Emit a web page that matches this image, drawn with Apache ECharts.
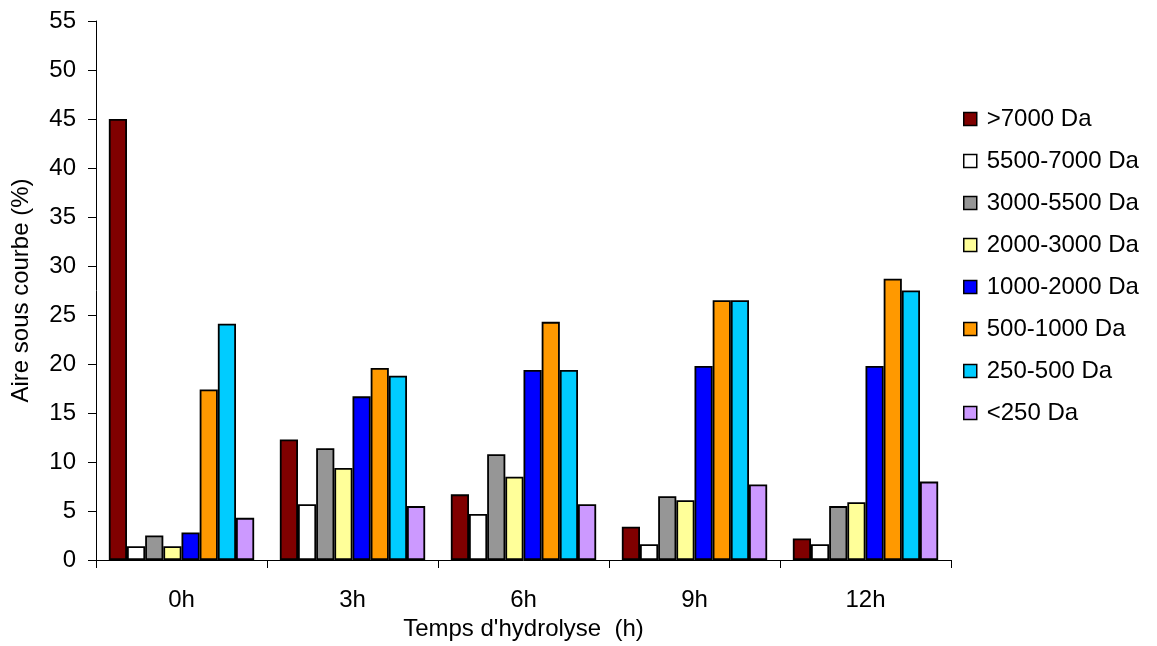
<!DOCTYPE html>
<html>
<head>
<meta charset="utf-8">
<script src="https://cdn.jsdelivr.net/npm/echarts@6/dist/echarts.min.js"></script>
<style>
html,body{margin:0;padding:0;background:#fff;}
#chart{width:1157px;height:646px;}
</style>
</head>
<body>
<div id="chart"></div>
<script>
const categories = ['0h', '3h', '6h', '9h', '12h'];
const seriesNames = ['>7000 Da', '5500-7000 Da', '3000-5500 Da', '2000-3000 Da', '1000-2000 Da', '500-1000 Da', '250-500 Da', '<250 Da'];
const colors = ['#800000', '#FFFFFF', '#969696', '#FFFF99', '#0000FF', '#FF9900', '#00CCFF', '#CC99FF'];
const s7000 = [45.0, 12.3, 6.7, 3.4, 2.2];
const s5500 = [1.4, 5.7, 4.7, 1.6, 1.6];
const s3000 = [2.5, 11.4, 10.8, 6.5, 5.5];
const s2000 = [1.4, 9.4, 8.5, 6.1, 5.9];
const s1000 = [2.8, 16.7, 19.4, 19.8, 19.8];
const s500 = [17.4, 19.6, 24.3, 26.5, 28.7];
const s250 = [24.1, 18.8, 19.4, 26.5, 27.5];
const sLt250 = [4.3, 5.5, 5.7, 7.7, 8.0];
const seriesValues = [s7000, s5500, s3000, s2000, s1000, s500, s250, sLt250];
const yTicks = {min: 0, max: 55, interval: 5};

const font = 'Liberation Sans, Arial, sans-serif';
const fs = 24;
const chart = echarts.init(document.getElementById('chart'));
chart.setOption({
  animation: false,
  backgroundColor: '#fff',
  grid: {left: 96, right: 206, top: 21, bottom: 86},
  legend: {
    orient: 'vertical',
    left: 958,
    top: 102,
    itemWidth: 13,
    itemHeight: 13,
    itemGap: 18,
    icon: 'rect',
    textStyle: {fontFamily: font, fontSize: fs, color: '#000', lineHeight: 24, padding: [0, 0, 0, 5]},
    data: seriesNames.map((n, i) => ({name: n, itemStyle: {color: colors[i], borderColor: '#000', borderWidth: 1.5}}))
  },
  xAxis: {
    type: 'category',
    data: categories,
    name: "Temps d'hydrolyse  (h)",
    nameLocation: 'middle',
    nameGap: 46,
    nameTextStyle: {fontFamily: font, fontSize: fs, color: '#000'},
    axisLine: {lineStyle: {color: '#000', width: 1}},
    axisTick: {show: true, alignWithLabel: false, length: 8, lineStyle: {color: '#000'}},
    axisLabel: {fontFamily: font, fontSize: fs, color: '#000', margin: 28}
  },
  yAxis: {
    type: 'value',
    min: yTicks.min,
    max: yTicks.max,
    interval: yTicks.interval,
    name: 'Aire sous courbe (%)',
    nameLocation: 'middle',
    nameGap: 63,
    nameTextStyle: {fontFamily: font, fontSize: fs, color: '#000'},
    axisLine: {show: true, lineStyle: {color: '#000', width: 1}},
    axisTick: {show: true, length: 8, lineStyle: {color: '#000'}},
    splitLine: {show: false},
    axisLabel: {fontFamily: font, fontSize: fs, color: '#000', margin: 20}
  },
  series: seriesNames.map((n, i) => ({
    name: n,
    type: 'bar',
    data: seriesValues[i],
    barGap: '0%',
    barCategoryGap: '15%',
    itemStyle: {color: colors[i], borderColor: '#000', borderWidth: 1.8}
  }))
});
</script>
</body>
</html>
